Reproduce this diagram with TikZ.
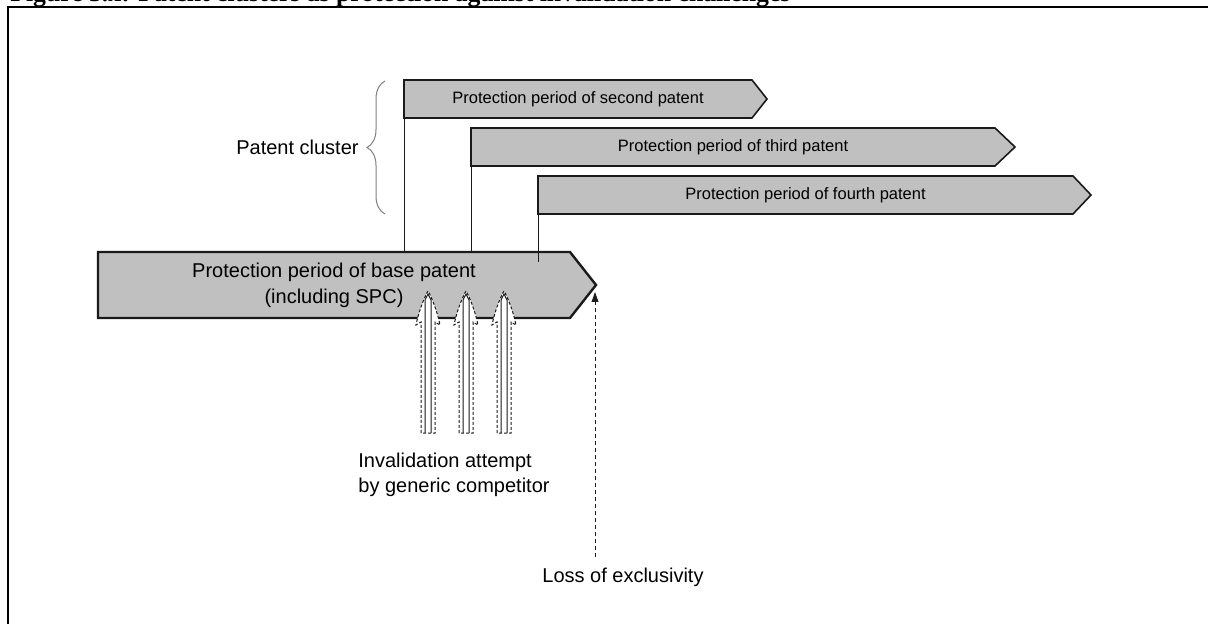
\documentclass[tikz,border=0pt]{standalone}
\usepackage{fontspec}
\setmainfont{Liberation Sans}
\newfontfamily\titlefont{Liberation Serif}
\usepackage{tikz}
\usetikzlibrary{arrows.meta,calc,decorations.pathreplacing,positioning}
\definecolor{boxgray}{HTML}{C0C0C0}
\definecolor{ink}{HTML}{1A1A1A}
\definecolor{bracegray}{HTML}{808080}

\begin{document}
\begin{tikzpicture}[x=0.5pt,y=0.5pt,
    periodbox/.style={fill=boxgray,draw=ink,line width=0.8pt},
    basebox/.style={periodbox,line width=1.2pt},
    periodlab/.style={inner sep=0pt,outer sep=0pt,minimum height=19pt,font=\fontsize{8.25}{10}\selectfont},
    textlab/.style={inner sep=0pt,font=\fontsize{10}{12.5}\selectfont},
    tieline/.style={draw=ink,line width=0.5pt},
    clusterbrace/.style={decorate,decoration={brace,amplitude=9pt},draw=bracegray,line width=0.5pt},
    attemptout/.style={fill=white,draw=ink,line width=0.5pt,dash pattern=on 1.5pt off 1pt},
    attemptin/.style={draw=ink,line width=0.5pt},
    lossarrow/.style={-{Triangle[length=5pt,width=3.4pt]},draw=ink,line width=0.5pt,dash pattern=on 2pt off 1.5pt}]
        \useasboundingbox (0,0) rectangle (1208,-624);
        \clip (0,0) rectangle (1208,-624);
        \node[anchor=base west,inner sep=0pt] (title) at (10,-1.5)
          {\titlefont\bfseries\fontsize{12.85}{15}\selectfont Figure 3.x: Patent clusters as protection against invalidation challenges};
        \draw[line width=1.2pt] (8,-7) rectangle (1216,-632);
        % base patent
        \draw[basebox] (98,-252) -- (570,-252) -- (596,-285) -- (570,-318) -- (98,-318) -- cycle;
        \node[periodlab,minimum width=236pt,minimum height=33pt,align=center,font=\fontsize{10}{13}\selectfont] (base) at (334,-285)
          {Protection period of base patent\\(including SPC)};
        % cluster patents
        \foreach \name/\cx/\cy/\w/\tip/\lab in {p2/578/99/348/15/second,p3/733/147/524/20/third,p4/805.5/195/535/18/fourth}{
          \draw[periodbox] (\cx-\w/2,-\cy+19) -- (\cx+\w/2,-\cy+19) -- (\cx+\w/2+\tip,-\cy) -- (\cx+\w/2,-\cy-19) -- (\cx-\w/2,-\cy-19) -- cycle;
          \node[periodlab,minimum width=\w/2] (\name) at (\cx,-\cy) {Protection period of \lab\ patent};
        }
        \foreach \name/\drop in {p2/0,p3/0,p4/10}
          \draw[tieline] (\name.south west) -- ($(\name.south west |- base.north)+(0,-\drop)$);
        \draw[clusterbrace] (385,-214) -- (385,-81);
        \node[textlab,anchor=east] (cluster) at (359,-147) {Patent cluster};
        % invalidation attempts
        \foreach \c in {428,466,504}{
          \draw[attemptout] (\c-7,-433) -- (\c-7,-322) -- (\c-12,-325) .. controls (\c-9,-310) and (\c-3,-296) .. (\c,-291)
            .. controls (\c+3,-296) and (\c+9,-310) .. (\c+12,-325) -- (\c+7,-322) -- (\c+7,-433) -- cycle;
          \draw[attemptin] (\c-3,-433) -- (\c-3,-300) -- (\c,-294) -- (\c+3,-300) -- (\c+3,-433);
        }
        \node[textlab,anchor=west,align=left] (attempt) at (358,-475) {Invalidation attempt\\by generic competitor};
        % loss of exclusivity
        \node[textlab,anchor=west] (loss) at (542,-577) {Loss of exclusivity};
        \coordinate (lossfoot) at (595,-557);
        \coordinate (losshead) at (595,-292);
        \draw[lossarrow] (lossfoot) -- (losshead);
      \end{tikzpicture}
\end{document}
